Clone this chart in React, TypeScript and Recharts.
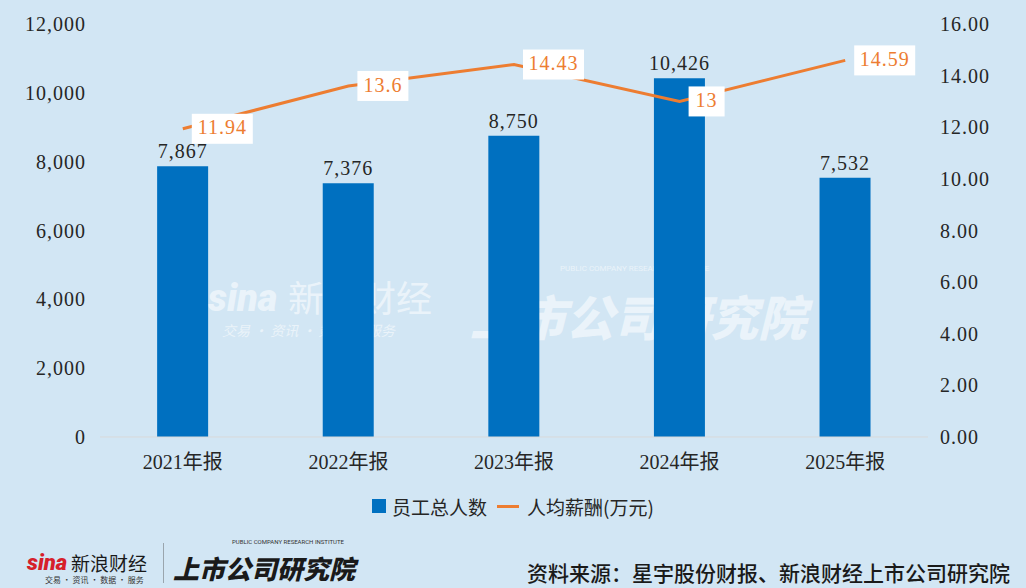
import { ComposedChart, Bar, Line, XAxis, YAxis, Legend, LabelList } from 'recharts'

const years = ['2021年报', '2022年报', '2023年报', '2024年报', '2025年报']
const staff = [7867, 7376, 8750, 10426, 7532]
const avgPay = [11.94, 13.6, 14.43, 13, 14.59]
const leftTicks = [0, 2000, 4000, 6000, 8000, 10000, 12000]
const rightTicks = [0, 2, 4, 6, 8, 10, 12, 14, 16]

const data = years.map((year, i) => ({ year, staff: staff[i], pay: avgPay[i] }))

const BG = '#d2e6f4'
const BLUE = '#0070c0'
const ORANGE = '#ed7d31'
const NUM_FONT = '"Liberation Serif", "Noto Sans CJK SC", serif'
const CJK_FONT = '"Noto Sans CJK SC", sans-serif'

const fmtThousands = (v: number) => v.toLocaleString('en-US')

const PayLabel = (props: any) => {
    const { x, y, value } = props
    const text = String(value)
    const w = text.length * 10 - (text.includes('.') ? 5 : 0) + 16
    return (
        <g>
            <rect x={x + 9} y={y - 15} width={w} height={30} fill="#ffffff" />
            <text
                x={x + 9 + w / 2}
                y={y + 1}
                textAnchor="middle"
                dominantBaseline="middle"
                fill={ORANGE}
                fontSize={20}
                fontFamily={NUM_FONT}
                letterSpacing={1}
            >
                {text}
            </text>
        </g>
    )
}

const LegendContent = () => (
    <div
        style={{
            display: 'flex',
            justifyContent: 'center',
            alignItems: 'center',
            height: 30,
            fontFamily: CJK_FONT,
            fontSize: 19,
            color: '#262626',
        }}
    >
        <span style={{ width: 14, height: 14, background: BLUE, marginRight: 6 }} />
        <span>员工总人数</span>
        <span style={{ width: 22, height: 3, background: ORANGE, margin: '0 8px 0 10px' }} />
        <span>人均薪酬(万元)</span>
    </div>
)

export default function App() {
    return (
        <div
            style={{
                position: 'absolute',
                left: 0,
                top: 0,
                width: 1026,
                height: 588,
                background: BG,
                overflow: 'hidden',
            }}
        >
            {/* faint watermark behind the bars */}
            <div style={{ position: 'absolute', left: 208, top: 262, color: '#ffffff', opacity: 0.55 }}>
                <div style={{ fontFamily: 'Roboto, sans-serif', fontWeight: 900, fontStyle: 'italic', fontSize: 38, lineHeight: '44px', position: 'absolute', top: 14 }}>
                    sina
                </div>
                <div style={{ fontFamily: CJK_FONT, fontSize: 36, lineHeight: '44px', position: 'absolute', left: 80, top: 12, whiteSpace: 'nowrap' }}>
                    新浪财经
                </div>
                <div style={{ fontFamily: CJK_FONT, fontSize: 14, lineHeight: '16px', position: 'absolute', left: 14, top: 60, whiteSpace: 'nowrap', fontStyle: 'italic' }}>
                    交易 · 资讯 · 数据 · 服务
                </div>
            </div>
            <div style={{ position: 'absolute', left: 470, top: 264, color: '#ffffff', opacity: 0.55 }}>
                <div style={{ fontFamily: 'Roboto, sans-serif', fontSize: 8, lineHeight: '10px', position: 'absolute', left: 90, top: 0, whiteSpace: 'nowrap' }}>
                    PUBLIC COMPANY RESEARCH INSTITUTE
                </div>
                <div style={{ fontFamily: CJK_FONT, fontWeight: 900, fontSize: 48, lineHeight: '54px', position: 'absolute', left: 0, top: 24, whiteSpace: 'nowrap', fontStyle: 'italic' }}>
                    上市公司研究院
                </div>
            </div>

            <ComposedChart
                width={1026}
                height={588}
                data={data}
                margin={{ top: 24, right: 0, left: 0, bottom: 67 }}
                barCategoryGap="34.5%"
                style={{ position: 'absolute', left: 0, top: 0 }}
            >
                <XAxis
                    dataKey="year"
                    height={54}
                    axisLine={{ stroke: '#d9d9d9', strokeWidth: 1 }}
                    tickLine={false}
                    tickMargin={12}
                    tick={{ fill: '#262626', fontSize: 20, fontFamily: NUM_FONT }}
                />
                <YAxis
                    yAxisId="left"
                    width={100}
                    domain={[0, 12000]}
                    ticks={leftTicks}
                    interval={0}
                    axisLine={false}
                    tickLine={false}
                    tickMargin={8}
                    tickFormatter={fmtThousands}
                    tick={{ fill: '#262626', fontSize: 20, fontFamily: NUM_FONT, letterSpacing: 1 }}
                />
                <YAxis
                    yAxisId="right"
                    orientation="right"
                    width={98}
                    domain={[0, 16]}
                    ticks={rightTicks}
                    interval={0}
                    axisLine={false}
                    tickLine={false}
                    tickMargin={6}
                    tickFormatter={(v: number) => v.toFixed(2)}
                    tick={{ fill: '#262626', fontSize: 20, fontFamily: NUM_FONT, letterSpacing: 1 }}
                />
                <Legend verticalAlign="bottom" height={30} content={<LegendContent />} />
                <Bar yAxisId="left" dataKey="staff" fill={BLUE} isAnimationActive={false}>
                    <LabelList
                        dataKey="staff"
                        position="top"
                        offset={8}
                        formatter={(v: any) => fmtThousands(Number(v))}
                        fill="#262626"
                        fontSize={20}
                        fontFamily={NUM_FONT}
                        letterSpacing={1}
                    />
                </Bar>
                <Line
                    yAxisId="right"
                    dataKey="pay"
                    stroke={ORANGE}
                    strokeWidth={3}
                    dot={false}
                    activeDot={false}
                    isAnimationActive={false}
                >
                    <LabelList dataKey="pay" content={<PayLabel />} />
                </Line>
            </ComposedChart>

            {/* footer logos and source */}
            <div style={{ position: 'absolute', left: 25, top: 543, width: 140, height: 44 }}>
                <div style={{ position: 'absolute', left: 2, top: 8, fontFamily: 'Roboto, sans-serif', fontWeight: 900, fontStyle: 'italic', fontSize: 22, lineHeight: '24px', color: '#d6202a' }}>
                    sina
                </div>
                <div style={{ position: 'absolute', left: 46, top: 8, fontFamily: CJK_FONT, fontSize: 19, lineHeight: '23px', color: '#1a1a1a', whiteSpace: 'nowrap' }}>
                    新浪财经
                </div>
                <div style={{ position: 'absolute', left: 20, top: 32, fontFamily: CJK_FONT, fontSize: 8, lineHeight: '10px', color: '#333', whiteSpace: 'nowrap' }}>
                    交易 · 资讯 · 数据 · 服务
                </div>
            </div>
            <div style={{ position: 'absolute', left: 163, top: 543, width: 1, height: 40, background: '#9aa5ad' }} />
            <div style={{ position: 'absolute', left: 232, top: 538, fontFamily: 'Roboto, sans-serif', fontSize: 6, lineHeight: '7px', color: '#333', whiteSpace: 'nowrap' }}>
                PUBLIC COMPANY RESEARCH INSTITUTE
            </div>
            <div style={{ position: 'absolute', left: 173, top: 553, fontFamily: CJK_FONT, fontWeight: 900, fontStyle: 'italic', fontSize: 26, color: '#1a1a1a', whiteSpace: 'nowrap', lineHeight: '30px' }}>
                上市公司研究院
            </div>
            <div style={{ position: 'absolute', right: 16, top: 557, fontFamily: CJK_FONT, fontWeight: 500, fontSize: 21, color: '#1a1a1a', whiteSpace: 'nowrap', lineHeight: '30px' }}>
                资料来源：星宇股份财报、新浪财经上市公司研究院
            </div>
        </div>
    )
}
